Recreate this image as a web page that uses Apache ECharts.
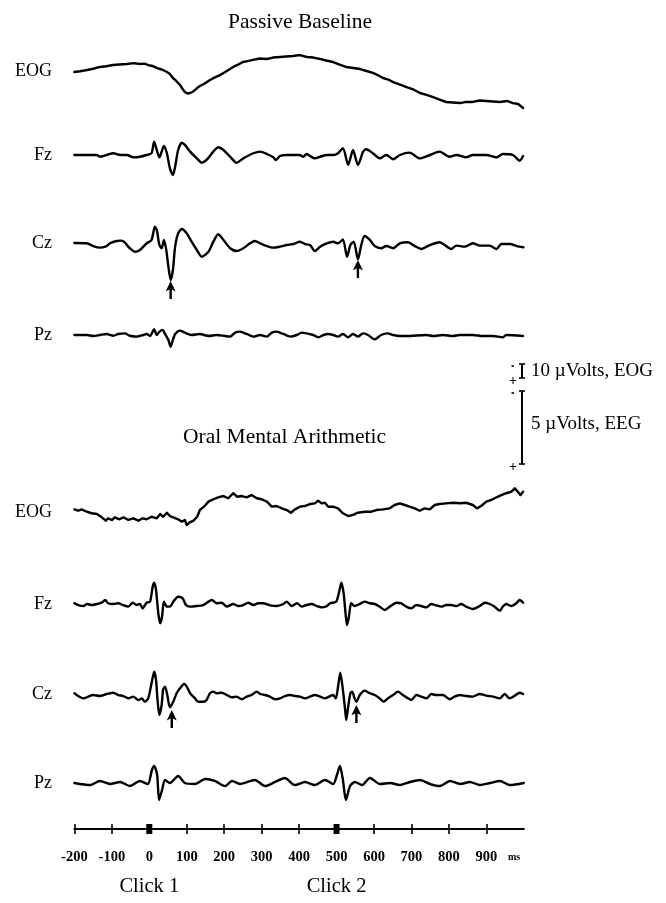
<!DOCTYPE html>
<html><head><meta charset="utf-8">
<script src="https://cdn.jsdelivr.net/npm/echarts@6/dist/echarts.min.js"></script>
<style>html,body{margin:0;padding:0;background:#fff}#c{width:666px;height:903px}</style>
</head><body><div id="c"></div>
<script>
// ---------------- DATA (time in ms, amplitude in µV, negative up) ----------------
const channels = ['EOG', 'Fz', 'Cz', 'Pz'];
const conditionTitles = ['Passive Baseline', 'Oral Mental Arithmetic'];
const tickValues = [-200, -100, 0, 100, 200, 300, 400, 500, 600, 700, 800, 900];
const clickTimes = [0, 500];
const clickLabels = ['Click 1', 'Click 2'];
const unitLabel = 'ms';
const eogScaleUV = 10, eegScaleUV = 5;
const eogScaleText = '10 µVolts, EOG', eegScaleText = '5 µVolts, EEG';

// Passive Baseline
const pbEogT = [-200,-185,-166,-150,-132,-115,-97,-80,-60,-42,-25,-12,-4,8,21,35,47,55,63,72,82,90,95,102,109,115,122,128,135,148,162,175,189,205,224,237,250,263,277,295,314,330,349,365,384,402,421,438,456,472,491,508,525,545,563,580,597,610,624,638,651,668,685,705,723,740,758,775,792,810,830,846,864,882,899,918,936,955,971,985,998];
const pbEogV = [0.7,0.2,-0.7,-1.6,-2.9,-3.4,-4.3,-4.6,-5,-5.6,-5,-5.3,-4.3,-3.6,-2.1,-0.9,0.7,2.1,5,7.1,10,13.2,15,16.1,15.7,15,13.6,12.1,10.7,8.9,6.4,4.6,2.9,0.4,-2.9,-4.6,-6.4,-7.1,-7.9,-8.9,-8.6,-9.6,-10,-10.4,-10.7,-11.4,-10,-9.6,-8.6,-7.5,-6.4,-4.6,-2.9,-2.1,-1.4,0,1.4,2.9,5,6.1,7.9,9.6,11.4,13.2,15.7,17.1,18.6,20.4,22.1,22.5,22.9,22.1,22.1,21.1,21.4,21.8,22.1,21.4,22.9,23.6,26.4];
const pbFzT = [-200,-140,-132,-114,-96,-78,-60,-43,-25,-7,6,13,20,27,33,39,47,55,63,69,77,87,95,109,127,140,153,171,184,198,216,233,251,278,296,314,331,338,349,367,402,411,420,429,442,456,474,491,504,517,531,544,557,571,579,597,615,633,651,669,695,722,749,775,802,820,846,864,900,927,944,971,989,998];
const pbFzV = [0,0,0.12,0,-0.12,0,0,0.16,0.12,0,-0.12,-0.91,-0.34,0.16,-0.23,-0.62,-0.12,0.91,1.37,0.8,-0.34,-0.84,-0.69,-0.23,0.23,0.53,0.34,-0.23,-0.53,-0.34,0.12,0.53,0.23,-0.12,-0.23,-0.07,0.16,0.34,0.07,0,0,0.12,-0.07,0.07,0.23,0.12,0,0,-0.12,-0.46,0.68,-0.34,0.68,-0.23,-0.39,-0.12,0.23,0,0.29,0,-0.16,0.23,0,-0.23,0.12,0,0.16,0,0,0.16,-0.07,0,0.39,0.07];
const pbCzT = [-200,-167,-150,-132,-114,-105,-87,-74,-65,-52,-38,-25,-7,6,15,20,27,33,39,45,51,57,63,69,77,87,100,113,127,140,158,171,184,198,216,233,251,269,282,296,314,331,349,367,385,402,416,429,442,456,474,491,504,517,528,537,546,557,566,575,589,602,619,633,651,669,691,709,726,749,775,789,806,820,842,864,882,909,927,940,963,981,999];
const pbCzV = [0,0.02,0.21,0.32,0.21,0.02,-0.14,-0.16,-0.02,0.36,0.6,0.48,0.02,-0.21,-1.12,-0.89,0.14,0.36,-0.21,0.43,1.62,2.53,1.85,0.25,-0.66,-0.96,-0.66,-0.09,0.48,0.94,0.6,-0.09,-0.6,-0.21,0.36,0.55,0.36,0.02,-0.14,0.02,0.21,0.32,0.25,0.14,0.07,-0.09,0.07,0.14,0.55,0.25,0.02,-0.09,0.02,-0.25,0.94,0.14,-0.09,1.12,0.14,-0.48,-0.21,0.21,0.36,0.21,0.36,0.02,-0.05,0.21,0.41,0.14,-0.05,0.14,0.41,0.18,0.25,0.02,0.18,0.18,0.41,0.07,0.07,0.21,0.29];
const pbPzT = [-200,-167,-150,-132,-114,-96,-83,-65,-52,-34,-16,-7,2,13,20,27,36,42,51,57,63,69,82,95,113,135,158,180,202,216,229,242,260,278,296,314,327,340,358,376,394,407,420,438,451,465,478,491,504,517,531,544,557,571,584,602,619,637,651,669,686,740,758,784,811,829,864,891,918,944,953,998];
const pbPzV = [0,0,0.07,0,-0.07,0.05,-0.07,-0.11,0.05,0.11,0,-0.07,0.07,-0.39,0,-0.23,-0.34,-0.07,0.34,0.8,0.34,-0.07,-0.3,-0.16,0,-0.07,0.07,0,0.07,0.11,-0.16,-0.23,-0.07,0.11,0,0.11,-0.16,-0.23,-0.07,0.11,0,-0.16,-0.11,0,0.16,0,-0.07,0,0.11,-0.07,0.16,-0.07,0.11,-0.11,0,0.3,0,-0.11,0,0.07,0.07,0,0.07,0,0.07,0,0,0.07,0.07,0.16,0,0.07];
const pbArrowT = [57, 557];
const pbArrowV = [2.6, 1.16];

// Oral Mental Arithmetic
const omEogT = [-200,-190,-181,-167,-154,-140,-127,-116,-110,-100,-92,-80,-69,-56,-43,-29,-18,-7,6,20,29,37,47,55,64,77,87,95,100,107,118,128,135,146,158,171,184,198,211,224,235,247,260,273,287,300,314,327,340,354,367,378,389,402,416,429,442,451,460,469,478,491,504,517,531,544,557,575,593,606,624,642,655,669,682,695,709,722,735,749,762,775,793,811,829,846,864,875,886,900,913,927,940,953,967,976,984,991,998];
const omEogV = [-1.9,-0.9,-1.9,-0.2,0.9,1.4,3.8,6.2,4.5,5.7,3.8,5.2,3.8,5.7,4.5,6.2,4.5,5.2,3.4,4.5,1.4,3.4,0.5,2.9,3.8,5.2,6.9,5.7,9.3,7.6,6.2,3.4,-1.4,-3.8,-7.4,-9.1,-10.5,-11.4,-9.8,-13.4,-10.9,-11.4,-10.5,-12.1,-9.8,-9.1,-7.4,-3.8,-4.3,-2.6,-1.4,0.5,-1.9,-3.8,-4.3,-5.7,-6.2,-8.1,-6.2,-6.6,-3.8,-3.8,-2.6,0.9,2.9,2.1,0.5,-0.2,-0.2,-1.4,-1.9,-2.6,-5,-6.2,-5,-3.8,-2.6,-0.9,-2.6,-1.9,-5,-5.7,-6.2,-6.6,-6.2,-6.6,-5,-2.6,-4.3,-7.4,-8.6,-10.5,-12.1,-13.4,-14.5,-16.9,-14.5,-12.1,-14.5];
const omFzT = [-200,-190,-176,-166,-154,-140,-127,-118,-110,-96,-83,-69,-56,-44,-34,-25,-18,-7,2,9,13,18,24,29,34,39,47,55,64,77,89,98,109,127,144,158,167,180,193,207,224,238,251,264,278,291,304,322,340,358,367,380,394,407,420,434,447,460,474,483,499,508,513,519,524,528,533,539,548,562,575,589,602,615,629,642,660,673,686,700,713,726,740,753,766,780,793,806,820,833,846,864,882,896,909,922,936,944,953,967,980,989,998];
const omFzV = [-0.05,0.07,0.14,0,0.07,0,-0.09,-0.27,-0.05,0,-0.05,0.09,0.18,-0.09,0.07,0,0.3,-0.09,-0.16,-1.19,-1.46,-0.96,0.64,1.32,0.87,-0.16,0.18,0.18,-0.16,-0.5,-0.39,0.07,0.18,0.14,0.07,-0.16,-0.27,-0.05,-0.09,0.18,0,0.14,0.07,-0.09,0.07,-0.05,-0.05,0.09,0.14,0,-0.16,0.14,-0.05,0.18,0.07,0,0.14,0.23,0.14,-0.05,-0.16,-0.96,-1.46,-0.73,0.64,1.44,0.87,-0.05,0.14,0,-0.16,-0.05,0,0.18,0.41,0.18,-0.09,-0.05,0.18,0.3,0.07,0.14,0.23,0,0.09,0.18,0.07,0.07,0.14,0,0.18,0.34,0.14,-0.09,0,0.18,0.46,0.18,0,0.14,-0.05,-0.27,-0.09];
const omCzT = [-200,-190,-176,-163,-150,-132,-114,-96,-83,-69,-56,-43,-29,-20,-12,-3,6,13,18,22,27,33,37,42,48,55,64,73,82,93,100,109,122,131,144,153,162,171,180,193,207,220,233,247,260,273,287,296,309,322,336,349,362,376,389,402,416,429,442,456,469,483,491,498,504,510,517,523,526,531,537,542,548,553,562,575,589,602,615,626,637,651,664,677,691,700,713,726,740,753,766,784,802,815,829,846,864,882,900,918,936,949,962,976,989,998];
const omCzV = [-0.05,0.14,0.3,0.18,0.07,0.14,0,-0.09,0.07,0.14,0.3,0.18,0.41,0.3,0.53,0.3,-0.73,-1.53,-0.96,0.41,1.44,0.75,-0.32,-0.5,0.07,0.91,0.53,-0.05,-0.39,-0.68,-0.5,-0.05,0.3,0.53,0.53,0.41,-0.05,-0.16,-0.05,-0.09,0.07,0.23,0.18,0.36,0.18,0.07,-0.16,0,0.07,0.18,0.36,0.3,0.14,0.07,0.14,0.18,0.3,0.18,0.07,0.18,0.3,0.14,0.07,0.3,-0.5,-1.46,-0.27,1.1,1.78,0.87,-0.05,-0.16,0.3,0.53,0.07,-0.23,-0.05,0.07,0.3,0.53,0.3,0.07,-0.16,0.07,0.3,0.41,0.07,0.18,0.3,0,0.07,0.07,0.36,0.18,0.07,0.14,0.18,0,0.11,0.18,0.3,0,0.3,0.11,-0.09,0];
const omPzT = [-200,-158,-132,-105,-78,-52,-25,-4,7,13,21,26,34,42,55,77,95,122,149,175,202,221,242,282,309,336,362,389,416,442,469,491,501,509,517,525,536,549,568,589,616,643,669,696,723,750,776,803,830,856,883,910,936,963,1000];
const omPzV = [0,0.14,-0.14,0.07,-0.07,0.21,-0.14,0.07,-0.89,-1.16,-0.55,1.16,0.48,-0.21,0,-0.48,0,0.07,-0.27,-0.14,0.21,-0.14,0.07,-0.21,0.21,-0.07,-0.34,0.14,-0.07,0.14,-0.21,0.07,-0.55,-1.16,-0.21,1.16,0.21,-0.07,0.14,-0.34,0.07,0,0.14,-0.07,-0.21,0.07,0.21,-0.14,0.07,-0.07,0.14,0,-0.14,0.14,0];
const omArrowT = [60, 553];
const omArrowV = [1.1, 0.75];

// ---------------- LAYOUT / STYLE ----------------
const FONT = '"Liberation Serif","Times New Roman",Times,serif';
const INK = '#000';
const EEG_PX = 14.6;   // px per µV (EEG)
const EOG_PX = 1.4;    // px per µV (EOG)
const PLOT_LEFT = 74.4, PLOT_W = 449.4, HALF = 50;
const baselines = [71, 155, 243, 335, 512, 604, 694, 783];
const AXIS_Y = 829;

const pairs = (t, v) => t.map((x, i) => [x, v[i]]);
const traces = [
  { t: pbEogT, v: pbEogV, px: EOG_PX, smooth: false },
  { t: pbFzT,  v: pbFzV,  px: EEG_PX, smooth: 0.25 },
  { t: pbCzT,  v: pbCzV,  px: EEG_PX, smooth: 0.25 },
  { t: pbPzT,  v: pbPzV,  px: EEG_PX, smooth: 0.25 },
  { t: omEogT, v: omEogV, px: EOG_PX, smooth: false },
  { t: omFzT,  v: omFzV,  px: EEG_PX, smooth: 0.25 },
  { t: omCzT,  v: omCzV,  px: EEG_PX, smooth: 0.25 },
  { t: omPzT,  v: omPzV,  px: EEG_PX, smooth: 0.25 }
];

const grid = [], xAxis = [], yAxis = [], series = [];
traces.forEach((tr, i) => {
  grid.push({ left: PLOT_LEFT, width: PLOT_W, top: baselines[i] - HALF, height: HALF * 2 });
  xAxis.push({ gridIndex: i, type: 'value', min: -200, max: 1000, show: false });
  const r = HALF / tr.px;
  yAxis.push({ gridIndex: i, type: 'value', min: -r, max: r, inverse: true, show: false });
  series.push({
    type: 'line', xAxisIndex: i, yAxisIndex: i, data: pairs(tr.t, tr.v),
    showSymbol: false, smooth: tr.smooth, silent: true, clip: false,
    lineStyle: { color: INK, width: 2.4, join: 'round', cap: 'round' }
  });
});

// arrows under Cz troughs
const arrowPath = 'path://M5,0 L10,11 L6.2,9 L6.2,19 L3.8,19 L3.8,9 L0,11 Z';
[[2, pbArrowT, pbArrowV], [6, omArrowT, omArrowV]].forEach(([gi, t, v]) => {
  series.push({
    type: 'scatter', xAxisIndex: gi, yAxisIndex: gi, data: pairs(t, v),
    symbol: arrowPath, symbolSize: [10, 18], symbolOffset: [0, '50%'], clip: false, silent: true,
    itemStyle: { color: INK, opacity: 1 }
  });
});

// bottom time axis
const AX = traces.length;
grid.push({ left: PLOT_LEFT, width: PLOT_W, top: AXIS_Y - 10, height: 10 });
yAxis.push({ gridIndex: AX, type: 'value', min: 0, max: 1, show: false });
xAxis.push({
  gridIndex: AX, type: 'value', min: -200, max: 1000, interval: 100, position: 'bottom',
  axisLine: { show: true, lineStyle: { color: INK, width: 2 } },
  axisTick: { show: true, customValues: tickValues, length: 5, lineStyle: { color: INK, width: 1.6 } },
  axisLabel: { customValues: tickValues, margin: 21, color: INK, fontFamily: FONT, fontWeight: 'bold', fontSize: 14.5 },
  splitLine: { show: false }
});
xAxis.push({
  gridIndex: AX, type: 'value', min: -200, max: 1000, interval: 100, position: 'bottom',
  axisLine: { show: false },
  axisTick: { show: true, inside: true, customValues: tickValues, length: 5, lineStyle: { color: INK, width: 1.6 } },
  axisLabel: { show: false }, splitLine: { show: false }
});
xAxis.push({
  gridIndex: AX, type: 'value', min: -200, max: 1000, position: 'bottom',
  axisLine: { show: false }, axisTick: { show: false }, splitLine: { show: false },
  axisLabel: { customValues: clickTimes, margin: 47, color: INK, fontFamily: FONT, fontSize: 20.5,
    formatter: v => clickLabels[clickTimes.indexOf(v)] }
});
series.push({
  type: 'scatter', xAxisIndex: AX, yAxisIndex: AX, data: clickTimes.map(t => [t, 0]),
  symbol: 'rect', symbolSize: [6, 10], clip: false, silent: true, itemStyle: { color: INK, opacity: 1 }
});

// text annotations
const graphic = [];
const txt = (x, y, text, size, align, extra) => graphic.push({
  type: 'text', x, y, silent: true,
  style: Object.assign({ text, fill: INK, font: `${size}px ${FONT}`, textAlign: align, textVerticalAlign: 'middle' }, extra || {})
});
txt(300, 22, conditionTitles[0], 21.5, 'center');
txt(284.5, 437, conditionTitles[1], 21.5, 'center');
baselines.forEach((b, i) => txt(52, b, channels[i % 4], 18, 'right'));
txt(514, 857, unitLabel, 10, 'center', { font: `bold 10px ${FONT}` });

// scale bars
const bar = (x, y0, len) => {
  graphic.push({ type: 'line', silent: true, shape: { x1: x, y1: y0, x2: x, y2: y0 + len }, style: { stroke: INK, lineWidth: 2 } });
  graphic.push({ type: 'line', silent: true, shape: { x1: x - 3, y1: y0, x2: x + 3, y2: y0 }, style: { stroke: INK, lineWidth: 1.6 } });
  graphic.push({ type: 'line', silent: true, shape: { x1: x - 3, y1: y0 + len, x2: x + 3, y2: y0 + len }, style: { stroke: INK, lineWidth: 1.6 } });
  graphic.push({ type: 'line', silent: true, shape: { x1: x - 10.5, y1: y0 + 2, x2: x - 8, y2: y0 + 2 }, style: { stroke: INK, lineWidth: 1.6 } });
  txt(x - 9, y0 + len + 3, '+', 14, 'center', { font: `bold 14px ${FONT}` });
};
const eogLen = eogScaleUV * EOG_PX, eegLen = eegScaleUV * EEG_PX;
bar(522, 364, eogLen);
bar(522, 391, eegLen);
txt(531, 364 + eogLen / 2, eogScaleText, 19, 'left');
txt(531, 391 + eegLen / 2 - 3, eegScaleText, 19, 'left');

const chart = echarts.init(document.getElementById('c'));
chart.setOption({ backgroundColor: '#fff', animation: false, grid, xAxis, yAxis, series, graphic });
</script></body></html>
